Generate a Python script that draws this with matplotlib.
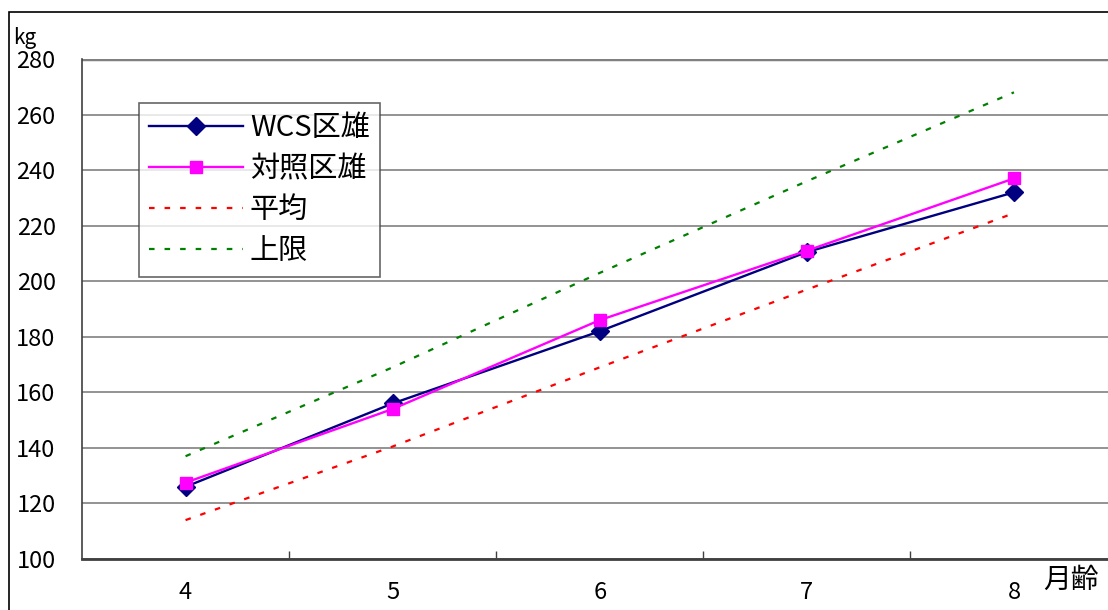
import matplotlib
matplotlib.use("Agg")
import matplotlib.pyplot as plt
from matplotlib.patches import Rectangle

plt.rcParams['font.family'] = ['Noto Sans CJK JP', 'DejaVu Sans']

# Monthly body weight (kg) by age in months
months = [4, 5, 6, 7, 8]
wcs_male = [126, 156, 182, 210.5, 232]
control_male = [127.5, 154, 186, 211, 237]
average = [114, 140.5, 169, 197, 224.5]
upper_limit = [137, 169, 203, 236, 268]
series_labels = ['WCS区雄', '対照区雄', '平均', '上限']
y_ticks = [100, 120, 140, 160, 180, 200, 220, 240, 260, 280]

W, H = 1108, 610
fig = plt.figure(figsize=(W / 100, H / 100), dpi=100)

# outer chart frame
fig.patches.append(Rectangle((9 / W, -0.1), 1.2, 1 - 12 / H + 0.1,
                             transform=fig.transFigure, fill=False,
                             edgecolor='black', linewidth=1.2, zorder=0))

left, right, top, bottom = 82, 1117.5, 59, 559
ax = fig.add_axes([left / W, 1 - bottom / H, (right - left) / W, (bottom - top) / H])

x = range(len(months))
ax.plot(x, wcs_male, color='#000080', lw=1.7, marker='D', ms=9.5,
        label=series_labels[0], zorder=4)
ax.plot(x, control_male, color='#FF00FF', lw=1.7, marker='s', ms=9,
        label=series_labels[1], zorder=5)
ax.plot(x, average, color='#FF0000', lw=1.6, dashes=(2.5, 4.5),
        label=series_labels[2], zorder=3)
ax.plot(x, upper_limit, color='#008000', lw=1.6, dashes=(2.5, 4.5),
        label=series_labels[3], zorder=3)

ax.set_xlim(-0.5, len(months) - 0.5)
ax.set_ylim(100, 280)
ax.set_yticks(y_ticks)
ax.set_yticklabels([str(v) for v in y_ticks], fontsize=17)
ax.yaxis.set_tick_params(length=0, pad=19)

ax.set_xticks(list(x))
ax.set_xticklabels([str(m) for m in months], fontsize=17)
ax.set_xticks([i + 0.5 for i in x], minor=True)
ax.xaxis.set_tick_params(which='major', length=0, pad=16)
ax.xaxis.set_tick_params(which='minor', direction='in', length=6, width=1,
                         color='#404040')

ax.grid(axis='y', color='#808080', lw=1.2)
for side in ('top', 'right'):
    ax.spines[side].set_visible(False)
ax.spines['left'].set_color('#404040')
ax.spines['left'].set_linewidth(1.2)
ax.spines['bottom'].set_color('#404040')
ax.spines['bottom'].set_linewidth(2)
ax.axhline(280, color='#808080', lw=2.5, zorder=1)

fig.text(13 / W, 1 - 38 / H, 'kg', fontsize=15, va='center', ha='left')
fig.text(1043 / W, 1 - 580 / H, '月齢', fontsize=20, va='center', ha='left')

leg = ax.legend(loc='upper left', bbox_to_anchor=(139 / W, 1 - 103 / H),
                bbox_transform=fig.transFigure, fontsize=21, frameon=True,
                fancybox=False, handlelength=3.2, handletextpad=0.25,
                labelspacing=0.38, borderpad=0.35, borderaxespad=0)
leg.get_frame().set_edgecolor('#404040')
leg.get_frame().set_linewidth(1.2)

fig.savefig('out.png', dpi=100)
